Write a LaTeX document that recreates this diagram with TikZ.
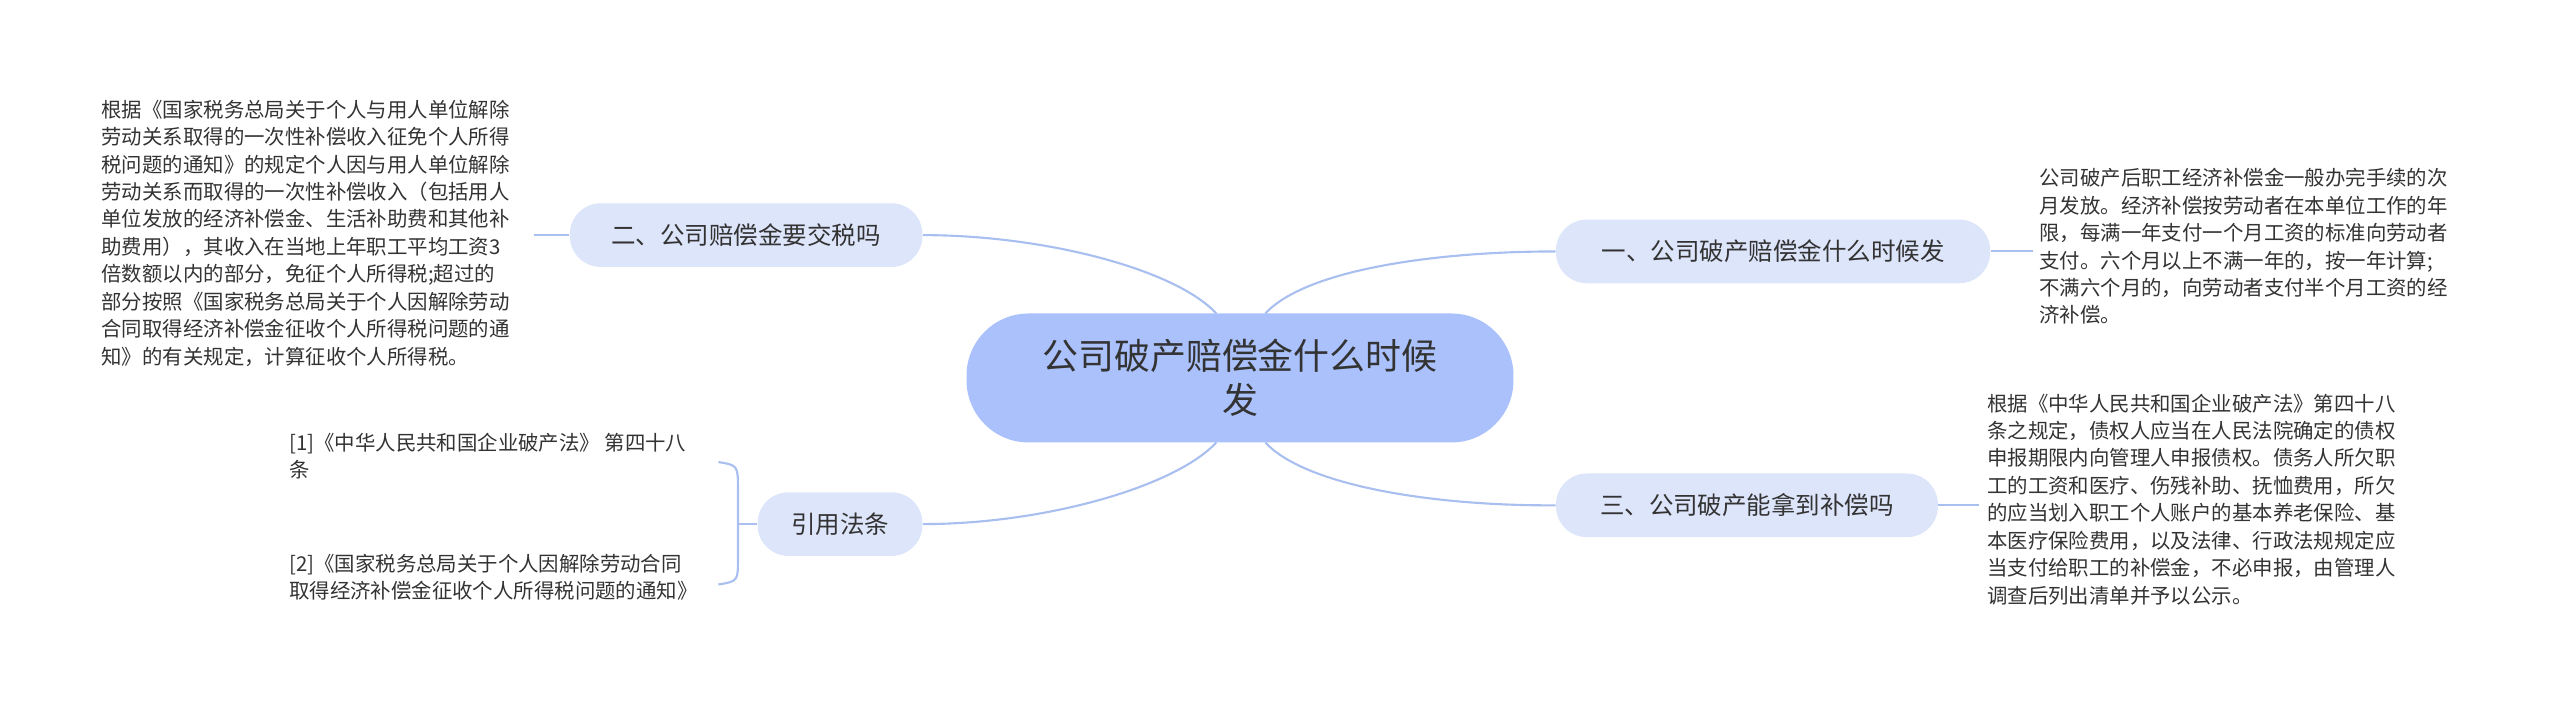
\documentclass[tikz,border=0pt]{standalone}
\usepackage{fontspec}
\setmainfont{Noto Sans CJK SC}
\definecolor{linec}{HTML}{A9BFEF}
\definecolor{cfill}{HTML}{AAC1FB}
\definecolor{bfill}{HTML}{DDE5FB}
\definecolor{txt}{HTML}{333333}
\begin{document}
\begin{tikzpicture}[x=1pt,y=-1pt,
  conn/.style={draw=linec,line width=1.3pt},
  branch/.style={rounded corners=19pt,fill=bfill,text=txt,font=\fontsize{15}{18}\selectfont,inner sep=0pt,minimum height=39pt},
  leaf/.style={text=txt,font=\fontsize{12.5}{16.8}\selectfont,align=left,inner sep=0pt,anchor=north west}]
\useasboundingbox (0,0) rectangle (1568,437);
\node[rounded corners=38pt,fill=cfill,text=txt,minimum width=335pt,minimum height=79pt,align=center,font=\fontsize{22}{27}\selectfont] (c) at (759.5,231.5) {公司破产赔偿金什么时候\\发};
\node[branch,minimum width=266pt] (b1) at (1086,154) {一、公司破产赔偿金什么时候发};
\node[branch,minimum width=234pt] (b3) at (1070,309.5) {三、公司破产能拿到补偿吗};
\node[branch,minimum width=216pt] (b2) at (457,144) {二、公司赔偿金要交税吗};
\node[branch,minimum width=101pt] (b4) at (514.5,321) {引用法条};
\node[leaf] (l1) at (1249,103) {公司破产后职工经济补偿金一般办完手续的次\\月发放。经济补偿按劳动者在本单位工作的年\\限，每满一年支付一个月工资的标准向劳动者\\支付。六个月以上不满一年的，按一年计算;\\不满六个月的，向劳动者支付半个月工资的经\\济补偿。};
\node[leaf] (l3) at (1217,241) {根据《中华人民共和国企业破产法》第四十八\\条之规定，债权人应当在人民法院确定的债权\\申报期限内向管理人申报债权。债务人所欠职\\工的工资和医疗、伤残补助、抚恤费用，所欠\\的应当划入职工个人账户的基本养老保险、基\\本医疗保险费用，以及法律、行政法规规定应\\当支付给职工的补偿金，不必申报，由管理人\\调查后列出清单并予以公示。};
\node[leaf] (l2) at (62,61) {根据《国家税务总局关于个人与用人单位解除\\劳动关系取得的一次性补偿收入征免个人所得\\税问题的通知》的规定个人因与用人单位解除\\劳动关系而取得的一次性补偿收入（包括用人\\单位发放的经济补偿金、生活补助费和其他补\\助费用），其收入在当地上年职工平均工资3\\倍数额以内的部分，免征个人所得税;超过的\\部分按照《国家税务总局关于个人因解除劳动\\合同取得经济补偿金征收个人所得税问题的通\\知》的有关规定，计算征收个人所得税。};
\node[leaf] (r1) at (177,265) {[1]《中华人民共和国企业破产法》 第四十八\\条};
\node[leaf] (r2) at (177,339) {[2]《国家税务总局关于个人因解除劳动合同\\取得经济补偿金征收个人所得税问题的通知》};
\coordinate (ct) at (775,192); \coordinate (cb) at (775,271);
\coordinate (ctl) at (745,192); \coordinate (cbl) at (745,271);
\draw[conn] (ct) .. controls (800,165) and (880,154) .. (b1.west);
\draw[conn] (cb) .. controls (800,298) and (880,310) .. (b3.west);
\draw[conn] (ctl) .. controls (720,165) and (640,144) .. (b2.east);
\draw[conn] (cbl) .. controls (720,298) and (640,321) .. (b4.east);
\draw[conn] (b1.east) -- (1245,154);
\draw[conn] (b3.east) -- (1212,309.5);
\draw[conn] (b2.west) -- (327,144);
\coordinate (k) at (452,321);
\draw[conn] (b4.west) -- (k);
\draw[conn] (440,283) .. controls (452,285) .. (452,300) -- (452,342) .. controls (452,356) .. (440,358);
\end{tikzpicture}
\end{document}
